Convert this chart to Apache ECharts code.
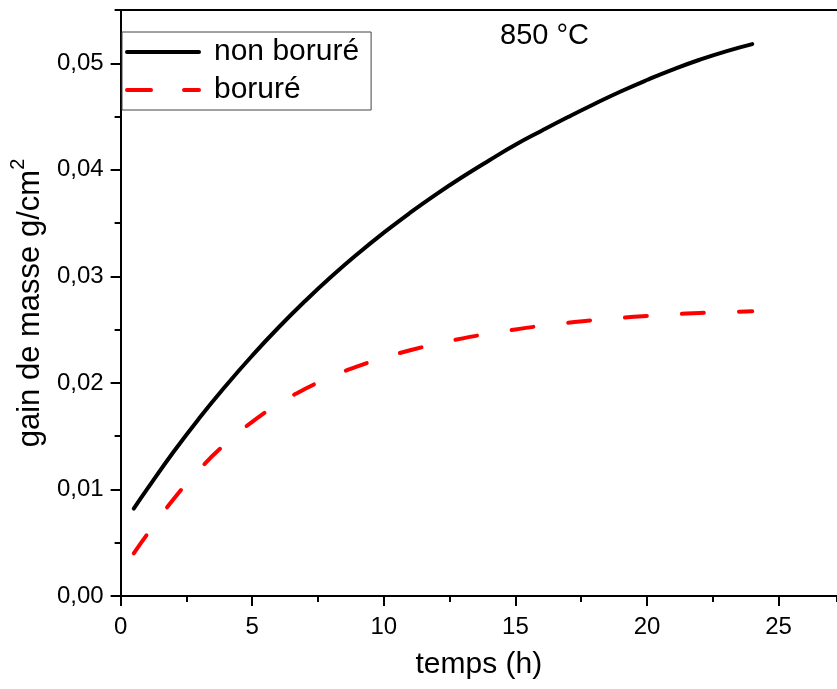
<!DOCTYPE html>
<html>
<head>
<meta charset="utf-8">
<title>gain de masse 850 °C</title>
<script src="https://cdn.jsdelivr.net/npm/echarts@6/dist/echarts.min.js"></script>
<style>
  html, body { margin: 0; padding: 0; background: #fff; }
  #chart { width: 837px; height: 689px; }
</style>
</head>
<body>
<div id="chart"></div>
<script>
// Oxidation time (hours)
const hours = [0.5, 1, 2, 3, 4, 5, 6, 7, 8, 9, 10, 11, 12, 13, 14, 15, 16, 17, 18, 19, 20, 21, 22, 23, 24];
// Mass gain of the untreated steel (g/cm²)
const nonBorure = [0.0082, 0.0100, 0.01349, 0.01673, 0.01974, 0.02256, 0.0252, 0.02766, 0.02996, 0.0321, 0.0341, 0.03597, 0.03772, 0.03935, 0.04088, 0.04235, 0.04367, 0.04495, 0.04618, 0.04735, 0.04843, 0.04943, 0.05033, 0.05112, 0.0518];
// Mass gain of the borided steel (g/cm²)
const borure = [0.0040, 0.00575, 0.00905, 0.0119, 0.01432, 0.01635, 0.01803, 0.01942, 0.02058, 0.02155, 0.02237, 0.02306, 0.02366, 0.02418, 0.02463, 0.02502, 0.02536, 0.02565, 0.0259, 0.02611, 0.02629, 0.02644, 0.02656, 0.02665, 0.02672];

const xMajorTicks = [0, 5, 10, 15, 20, 25];
const yMajorTicks = [0, 0.01, 0.02, 0.03, 0.04, 0.05];
const seriesNames = ['non boruré', 'boruré'];
const titleText = '850 °C';

const FONT = '"Liberation Sans", Arial, sans-serif';
const X_MAX = 27.22;
const Y_MAX = 0.055;

const chart = echarts.init(document.getElementById('chart'), null, { renderer: 'canvas' });

const axisLineStyle = { color: '#000', width: 2 };

chart.setOption({
  animation: false,
  backgroundColor: '#fff',
  textStyle: { fontFamily: FONT, color: '#000' },
  title: {
    text: titleText,
    left: 500,
    top: 21,
    padding: 0,
    textStyle: { fontFamily: FONT, fontSize: 29, fontWeight: 'normal', color: '#000' }
  },
  legend: {
    left: 122,
    top: 32,
    orient: 'vertical',
    padding: [5, 12, 5, 3],
    itemGap: 8,
    itemWidth: 72,
    itemHeight: 14,
    borderColor: '#444',
    borderWidth: 1,
    borderRadius: 0,
    itemStyle: { opacity: 0 },
    data: [
      { name: seriesNames[0], lineStyle: { width: 4, type: 'solid', cap: 'round' } },
      { name: seriesNames[1], lineStyle: { width: 4, type: [24, 33], cap: 'round' } }
    ],
    textStyle: { fontFamily: FONT, fontSize: 30, color: '#000', padding: [0, 0, 0, 10] }
  },
  grid: { left: 118, right: 0, top: 10, bottom: 93, containLabel: false },
  xAxis: [
    {
      type: 'value', position: 'bottom', min: 0, max: X_MAX, interval: 5,
      name: 'temps (h)', nameLocation: 'middle', nameGap: 54,
      nameTextStyle: { fontFamily: FONT, fontSize: 30, color: '#000' },
      axisLine: { show: true, lineStyle: axisLineStyle },
      axisTick: { show: true, length: 10, inside: false, lineStyle: { color: '#000', width: 2 }, customValues: xMajorTicks },
      axisLabel: { show: true, margin: 19, fontFamily: FONT, fontSize: 24, color: '#000', customValues: xMajorTicks },
      splitLine: { show: false }
    },
    {
      // minor ticks along the time axis
      type: 'value', position: 'bottom', min: 0, max: X_MAX, interval: 2.5,
      axisLine: { show: false },
      axisTick: { show: true, length: 6, inside: false, lineStyle: { color: '#000', width: 2 } },
      axisLabel: { show: false },
      splitLine: { show: false }
    },
    {
      // upper frame line
      type: 'value', position: 'top', min: 0, max: X_MAX,
      axisLine: { show: true, lineStyle: axisLineStyle },
      axisTick: { show: false }, axisLabel: { show: false }, splitLine: { show: false }
    }
  ],
  yAxis: [
    {
      type: 'value', position: 'left', min: 0, max: Y_MAX, interval: 0.01,
      name: '{a|gain de masse g/cm}{s|2}', nameLocation: 'middle', nameGap: 59,
      nameTextStyle: {
        fontFamily: FONT, color: '#000',
        rich: {
          a: { fontFamily: FONT, fontSize: 31, lineHeight: 38, verticalAlign: 'bottom', color: '#000' },
          s: { fontFamily: FONT, fontSize: 20, lineHeight: 20, verticalAlign: 'top', color: '#000' }
        }
      },
      axisLine: { show: true, lineStyle: axisLineStyle },
      axisTick: { show: true, length: 10, inside: false, lineStyle: { color: '#000', width: 2 }, customValues: yMajorTicks },
      axisLabel: {
        show: true, margin: 17, fontFamily: FONT, fontSize: 24, color: '#000',
        customValues: yMajorTicks,
        formatter: v => v.toFixed(2).replace('.', ',')
      },
      splitLine: { show: false }
    },
    {
      // minor ticks along the mass-gain axis
      type: 'value', position: 'left', min: 0, max: Y_MAX, interval: 0.005,
      axisLine: { show: false },
      axisTick: { show: true, length: 6, inside: false, lineStyle: { color: '#000', width: 2 } },
      axisLabel: { show: false },
      splitLine: { show: false }
    }
  ],
  series: [
    {
      name: seriesNames[0],
      type: 'line',
      xAxisIndex: 0, yAxisIndex: 0,
      data: hours.map((t, i) => [t, nonBorure[i]]),
      smooth: 0.5,
      showSymbol: false,
      symbol: 'none',
      lineStyle: { color: '#000', width: 4, cap: 'round', join: 'round' },
      itemStyle: { color: '#000' }
    },
    {
      name: seriesNames[1],
      type: 'line',
      xAxisIndex: 0, yAxisIndex: 0,
      data: hours.map((t, i) => [t, borure[i]]),
      smooth: 0.5,
      showSymbol: false,
      symbol: 'none',
      lineStyle: { color: '#ff0000', width: 4, type: [22, 35], cap: 'round', join: 'round' },
      itemStyle: { color: '#ff0000' }
    }
  ]
});
</script>
</body>
</html>
